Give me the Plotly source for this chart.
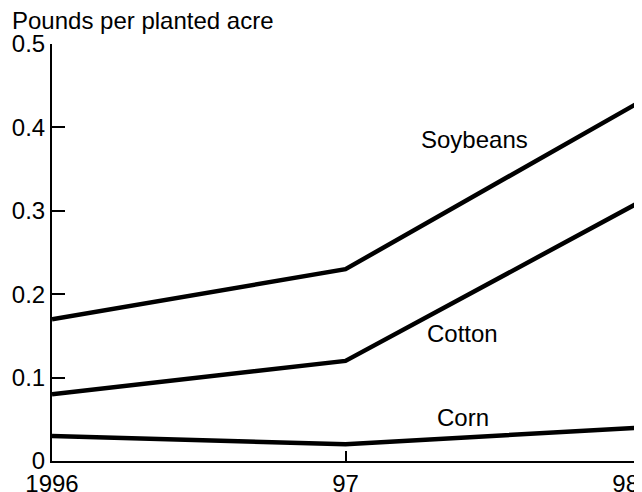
import plotly.graph_objects as go

years = [1996, 1997, 1998]
tick_labels = ["1996", "97", "98<span style='color:rgba(0,0,0,0)'>00</span>"]
soybeans = [0.17, 0.23, 0.43]
cotton = [0.08, 0.12, 0.31]
corn = [0.03, 0.02, 0.04]
y_ticks = [0, 0.1, 0.2, 0.3, 0.4, 0.5]
y_tick_labels = ["0", "0.1", "0.2", "0.3", "0.4", "0.5"]

FONT = dict(family="Liberation Sans, Arial, sans-serif", size=24, color="black")

fig = go.Figure()
for name, vals in [("Soybeans", soybeans), ("Cotton", cotton), ("Corn", corn)]:
    fig.add_trace(go.Scatter(x=years, y=vals, mode="lines", name=name,
                             line=dict(color="black", width=4.5), showlegend=False,
                             cliponaxis=False))

labels = [("Soybeans", 1997.44, 0.385), ("Cotton", 1997.40, 0.153), ("Corn", 1997.40, 0.052)]
for text, x, y in labels:
    fig.add_annotation(x=x, y=y, text=text, showarrow=False, font=FONT)

fig.add_annotation(xref="paper", yref="paper", x=-42/587, y=1, xanchor="left", yanchor="bottom",
                   yshift=8, text="Pounds per planted acre", showarrow=False, font=FONT)

fig.update_layout(
    width=634, height=484,
    margin=dict(l=44, r=3, t=36, b=31, autoexpand=False),
    paper_bgcolor="white", plot_bgcolor="white",
    font=FONT,
    xaxis=dict(range=[1996, 1998], tickvals=years, ticktext=tick_labels, showgrid=False,
               zeroline=False, showline=True, linecolor="black", linewidth=2,
               ticks="inside", ticklen=10, tickwidth=2, tickcolor="black", tickfont=FONT,
               automargin=False, ticklabeloverflow="allow"),
    yaxis=dict(range=[0, 0.5], tickvals=y_ticks, ticktext=y_tick_labels, showgrid=False,
               zeroline=False, showline=True, linecolor="black", linewidth=2,
               ticks="inside", ticklen=13, tickwidth=2, tickcolor="black", tickfont=FONT,
               automargin=False, ticklabeloverflow="allow"),
)

fig.write_html("out.html")
